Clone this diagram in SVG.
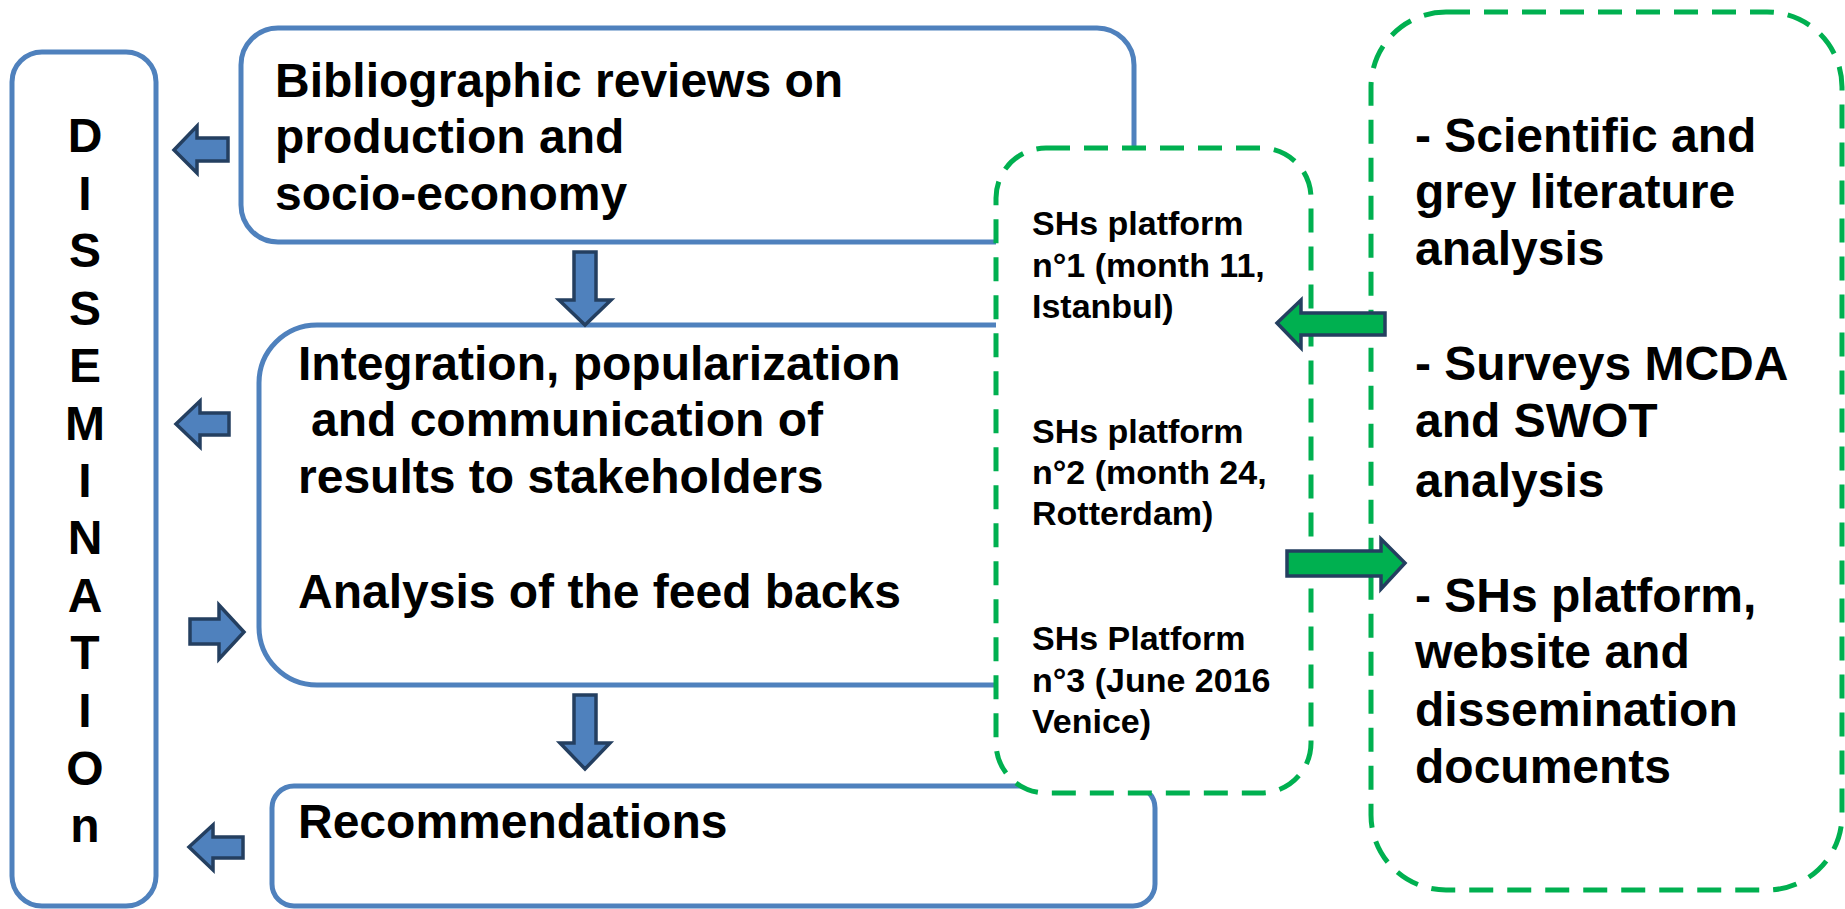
<svg xmlns="http://www.w3.org/2000/svg" width="1845" height="909" viewBox="0 0 1845 909">
<style>
.box{fill:#fff;stroke:#4F81BD;stroke-width:5}
.dash{fill:#fff;stroke:#00B050;stroke-width:5;stroke-dasharray:24 14}
.t{font-family:"Liberation Sans",Arial,sans-serif;font-weight:bold;fill:#000}
.big{font-size:48px}
.sm{font-size:34px}
.ab{fill:#4F81BD;stroke:#243F60;stroke-width:3.5;stroke-linejoin:miter}
.ag{fill:#00B050;stroke:#243F60;stroke-width:3.5;stroke-linejoin:miter}
</style>
<rect width="1845" height="909" fill="#fff"/>
<g id="dissemination">
<rect class="box" x="12" y="52" width="144" height="854" rx="30"/>
<g class="t big" text-anchor="middle">
<text x="85" y="152">D</text>
<text x="85" y="210">I</text>
<text x="85" y="267">S</text>
<text x="85" y="325">S</text>
<text x="85" y="382">E</text>
<text x="85" y="440">M</text>
<text x="85" y="497">I</text>
<text x="85" y="554">N</text>
<text x="85" y="612">A</text>
<text x="85" y="669">T</text>
<text x="85" y="727">I</text>
<text x="85" y="785">O</text>
<text x="85" y="842">n</text>
</g>
</g>
<g id="bibliographic">
<rect class="box" x="241" y="28" width="893" height="214" rx="37"/>
<text class="t big" x="275" y="97">Bibliographic reviews on</text>
<text class="t big" x="275" y="153">production and</text>
<text class="t big" x="275" y="210">socio-economy</text>
</g>
<g id="integration">
<rect class="box" x="259" y="325" width="841" height="360" rx="58"/>
<text class="t big" x="298" y="380">Integration, popularization</text>
<text class="t big" x="311" y="436">and communication of</text>
<text class="t big" x="298" y="493">results to stakeholders</text>
<text class="t big" x="298" y="608">Analysis of the feed backs</text>
</g>
<g id="recommendations">
<rect class="box" x="272" y="786" width="883" height="120" rx="22"/>
<text class="t big" x="298" y="838">Recommendations</text>
</g>
<g id="platforms">
<rect class="dash" x="996" y="148" width="315" height="645" rx="50"/>
<text class="t sm" x="1032" y="235">SHs platform</text>
<text class="t sm" x="1032" y="277">n°1 (month 11,</text>
<text class="t sm" x="1032" y="318">Istanbul)</text>
<text class="t sm" x="1032" y="443">SHs platform</text>
<text class="t sm" x="1032" y="484">n°2 (month 24,</text>
<text class="t sm" x="1032" y="525">Rotterdam)</text>
<text class="t sm" x="1032" y="650">SHs Platform</text>
<text class="t sm" x="1032" y="692">n°3 (June 2016</text>
<text class="t sm" x="1032" y="733">Venice)</text>
</g>
<g id="methods">
<rect class="dash" x="1371" y="12" width="471" height="878" rx="75"/>
<text class="t big" x="1415" y="152">- Scientific and</text>
<text class="t big" x="1415" y="208">grey literature</text>
<text class="t big" x="1415" y="265">analysis</text>
<text class="t big" x="1415" y="380">- Surveys MCDA</text>
<text class="t big" x="1415" y="437">and SWOT</text>
<text class="t big" x="1415" y="497">analysis</text>
<text class="t big" x="1415" y="612">- SHs platform,</text>
<text class="t big" x="1415" y="668">website and</text>
<text class="t big" x="1415" y="726">dissemination</text>
<text class="t big" x="1415" y="783">documents</text>
</g>
<g id="connectors">
<polygon class="ab" points="174,150 197,126 197,138 228,138 228,161 197,161 197,173"/>
<polygon class="ab" points="176,424 200,401 200,413 229,413 229,435 200,435 200,447"/>
<polygon class="ab" points="190,619 219,619 219,605 244,632 219,659 219,644 190,644"/>
<polygon class="ab" points="189,847 213,825 213,837 243,837 243,858 213,858 213,870"/>
<polygon class="ab" points="574,252 596,252 596,300 611,300 585,325 559,300 574,300"/>
<polygon class="ab" points="574,695 596,695 596,743 610,743 585,769 560,743 574,743"/>
<polygon class="ag" points="1277,323 1301,300 1301,313 1385,313 1385,335 1301,335 1301,348"/>
<polygon class="ag" points="1287,551 1381,551 1381,539 1405,563 1381,589 1381,576 1287,576"/>
</g>
</svg>
